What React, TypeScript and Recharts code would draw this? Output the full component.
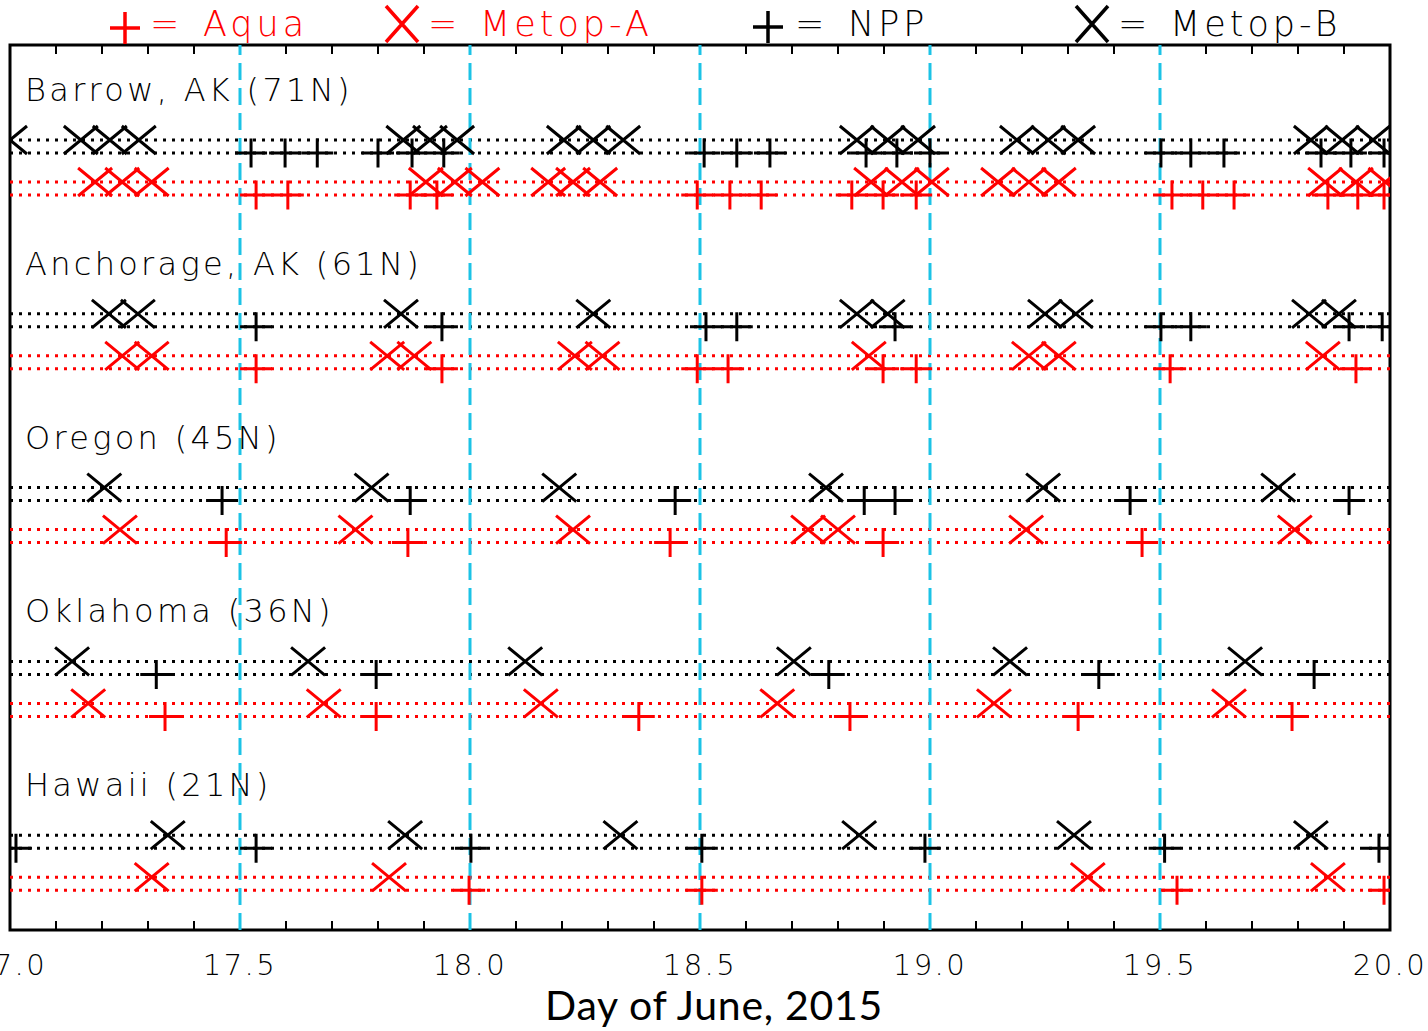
import { ScatterChart, Scatter, XAxis, YAxis, ReferenceLine, ReferenceArea } from "recharts";

// overpass times (day of June 2015), one list per station:
// Barrow, Anchorage, Oregon, Oklahoma, Hawaii
const stations = ["Barrow, AK (71N)", "Anchorage, AK (61N)", "Oregon (45N)", "Oklahoma (36N)", "Hawaii (21N)"];

const metopB = [
  [17.0, 17.154, 17.217, 17.28, 17.855, 17.913, 17.972, 18.204, 18.268, 18.333, 18.841, 18.908, 18.974, 19.189, 19.257, 19.322, 19.828, 19.896, 19.963],
  [17.215, 17.278, 17.85, 18.268, 18.841, 18.908, 19.25, 19.317, 19.824, 19.889],
  [17.205, 17.786, 18.194, 18.774, 19.246, 19.757],
  [17.135, 17.648, 18.12, 18.704, 19.174, 19.685],
  [17.343, 17.859, 18.327, 18.846, 19.313, 19.828],
];
const npp = [
  [17.524, 17.598, 17.668, 17.8, 17.874, 17.943, 18.509, 18.58, 18.652, 18.861, 18.928, 19.0, 19.502, 19.567, 19.639, 19.85, 19.915, 19.987],
  [17.535, 17.939, 18.513, 18.58, 18.924, 19.502, 19.567, 19.911, 19.983],
  [17.461, 17.87, 18.446, 18.857, 18.924, 19.435, 19.911],
  [17.318, 17.796, 18.78, 19.367, 19.835],
  [17.013, 17.535, 18.002, 18.504, 18.989, 19.51, 19.976],
];
const metopA = [
  [17.185, 17.244, 17.308, 17.904, 17.967, 18.027, 18.17, 18.224, 18.283, 18.872, 18.939, 19.004, 19.148, 19.215, 19.28, 19.859, 19.926, 19.99],
  [17.244, 17.308, 17.82, 17.879, 18.228, 18.288, 18.867, 19.215, 19.28, 19.854],
  [17.239, 17.751, 18.224, 18.735, 18.8, 19.209, 19.793],
  [17.17, 17.682, 18.154, 18.668, 19.139, 19.65],
  [17.308, 17.824, 19.343, 19.865],
];
const aqua = [
  [17.535, 17.604, 17.87, 17.928, 18.494, 18.565, 18.633, 18.83, 18.898, 18.97, 19.526, 19.593, 19.661, 19.865, 19.93, 19.987],
  [17.535, 17.939, 18.494, 18.561, 18.898, 18.97, 19.522, 19.926],
  [17.47, 17.865, 18.435, 18.898, 19.461],
  [17.337, 17.796, 18.367, 18.826, 19.322, 19.787],
  [17.998, 18.504, 19.537, 19.987],
];

const xTicks = [17.0, 17.5, 18.0, 18.5, 19.0, 19.5, 20.0];
const dayMarks = [17.5, 18.0, 18.5, 19.0, 19.5];
const minorTicks = [
  17.1, 17.2, 17.3, 17.4, 17.6, 17.7, 17.8, 17.9,
  18.1, 18.2, 18.3, 18.4, 18.6, 18.7, 18.8, 18.9,
  19.1, 19.2, 19.3, 19.4, 19.6, 19.7, 19.8, 19.9,
];

const RED = "#ff0000";
const CYAN = "#1cc3e6";
const FONT = "'DejaVu Sans', sans-serif";

// vertical layout (y units = pixels below plot top)
const ROW_TOP = 95;
const STATION_STEP = 173.8;
const ROW_OFFSETS = [0, 13, 42, 55];
const rowY = (s: number, k: number) => ROW_TOP + s * STATION_STEP + ROW_OFFSETS[k];

const sats = [
  { name: "Metop-B", passes: metopB, color: "#000", kind: "x" },
  { name: "NPP", passes: npp, color: "#000", kind: "plus" },
  { name: "Metop-A", passes: metopA, color: RED, kind: "x" },
  { name: "Aqua", passes: aqua, color: RED, kind: "plus" },
];

function markPath(kind: string, cx: number, cy: number) {
  if (kind === "plus") return `M${cx - 16},${cy}H${cx + 16}M${cx},${cy - 14.5}V${cy + 14.5}`;
  return `M${cx - 17},${cy - 14}L${cx + 17},${cy + 14}M${cx - 17},${cy + 14}L${cx + 17},${cy - 14}`;
}

const makeShape = (kind: string, color: string) => (props: any) => (
  <path d={markPath(kind, props.cx, props.cy)} stroke={color} strokeWidth={3} fill="none" />
);

function DayTick(props: any) {
  const { x, y, payload } = props;
  return (
    <text x={x} y={y} dy={20} textAnchor="middle" fontSize={29} fontFamily={FONT} fontWeight={200} letterSpacing={2.5} fill="#000">
      {payload.value.toFixed(1)}
    </text>
  );
}

const legendItems = [
  { kind: "plus", color: RED, mx: 125, my: 28, tx: 150, label: "Aqua", lx: 203 },
  { kind: "x", color: RED, mx: 402, my: 24, tx: 428, label: "Metop-A", lx: 480 },
  { kind: "plus", color: "#000", mx: 768, my: 27, tx: 795, label: "NPP", lx: 848 },
  { kind: "x", color: "#000", mx: 1092, my: 24, tx: 1118, label: "Metop-B", lx: 1170 },
];

export default function App() {
  return (
    <div style={{ position: "absolute", left: 0, top: 0, width: 1428, height: 1031, background: "#fff" }}>
      <ScatterChart width={1428} height={1031} margin={{ top: 45, right: 38, bottom: 0, left: 10 }}>
        <XAxis
          type="number"
          dataKey="x"
          domain={[17, 20]}
          allowDataOverflow
          ticks={xTicks}
          interval={0}
          height={101}
          tickSize={0}
          tickMargin={25}
          axisLine={false}
          tickLine={false}
          tick={<DayTick />}
        />
        <YAxis type="number" dataKey="y" domain={[0, 885]} reversed hide />
        {stations.map((_, s) =>
          sats.map((sat, k) => (
            <ReferenceLine
              key={`row-${s}-${k}`}
              y={rowY(s, k)}
              stroke={sat.color}
              strokeWidth={3}
              strokeDasharray="3 6"
            />
          ))
        )}
        {dayMarks.map((d) => (
          <ReferenceLine key={`day-${d}`} x={d} stroke={CYAN} strokeWidth={3} strokeDasharray="17 8" />
        ))}
        {minorTicks.map((t) => (
          <ReferenceLine key={`tb-${t}`} segment={[{ x: t, y: 885 }, { x: t, y: 876 }]} stroke="#000" strokeWidth={2} />
        ))}
        {minorTicks.map((t) => (
          <ReferenceLine key={`tt-${t}`} segment={[{ x: t, y: 0 }, { x: t, y: 9 }]} stroke="#000" strokeWidth={2} />
        ))}
        {sats.map((sat, k) => (
          <Scatter
            key={sat.name}
            name={sat.name}
            data={sat.passes.flatMap((list, s) => list.map((d) => ({ x: d, y: rowY(s, k) })))}
            shape={makeShape(sat.kind, sat.color)}
            isAnimationActive={false}
          />
        ))}
        <ReferenceArea x1={17} x2={20} y1={0} y2={885} fill="none" fillOpacity={0} stroke="#000" strokeWidth={3} />
      </ScatterChart>
      <svg width={1428} height={1031} style={{ position: "absolute", left: 0, top: 0, pointerEvents: "none" }}>
        {legendItems.map((it) => (
          <g key={it.label}>
            <path
              d={it.kind === "plus"
                ? `M${it.mx - 15},${it.my}H${it.mx + 15}M${it.mx},${it.my - 16}V${it.my + 16}`
                : `M${it.mx - 16},${it.my - 18}L${it.mx + 16},${it.my + 18}M${it.mx - 16},${it.my + 18}L${it.mx + 16},${it.my - 18}`}
              stroke={it.color}
              strokeWidth={3.5}
              fill="none"
            />
            <text x={it.tx} y={36} fontSize={35} fontFamily={FONT} fontWeight={200} fill={it.color}>=</text>
            <text x={it.lx} y={36} fontSize={35} fontFamily={FONT} fontWeight={200} letterSpacing={4} fill={it.color}>
              {it.label}
            </text>
          </g>
        ))}
        {stations.map((name, s) => (
          <text key={name} x={25} y={101 + s * STATION_STEP} fontSize={32} fontFamily={FONT} fontWeight={200} letterSpacing={3.3} fill="#000">
            {name}
          </text>
        ))}
        <text x={714} y={1020} textAnchor="middle" fontSize={41} fontFamily="Lato, 'Open Sans', sans-serif" letterSpacing={0.7} fill="#000">
          Day of June, 2015
        </text>
      </svg>
    </div>
  );
}
